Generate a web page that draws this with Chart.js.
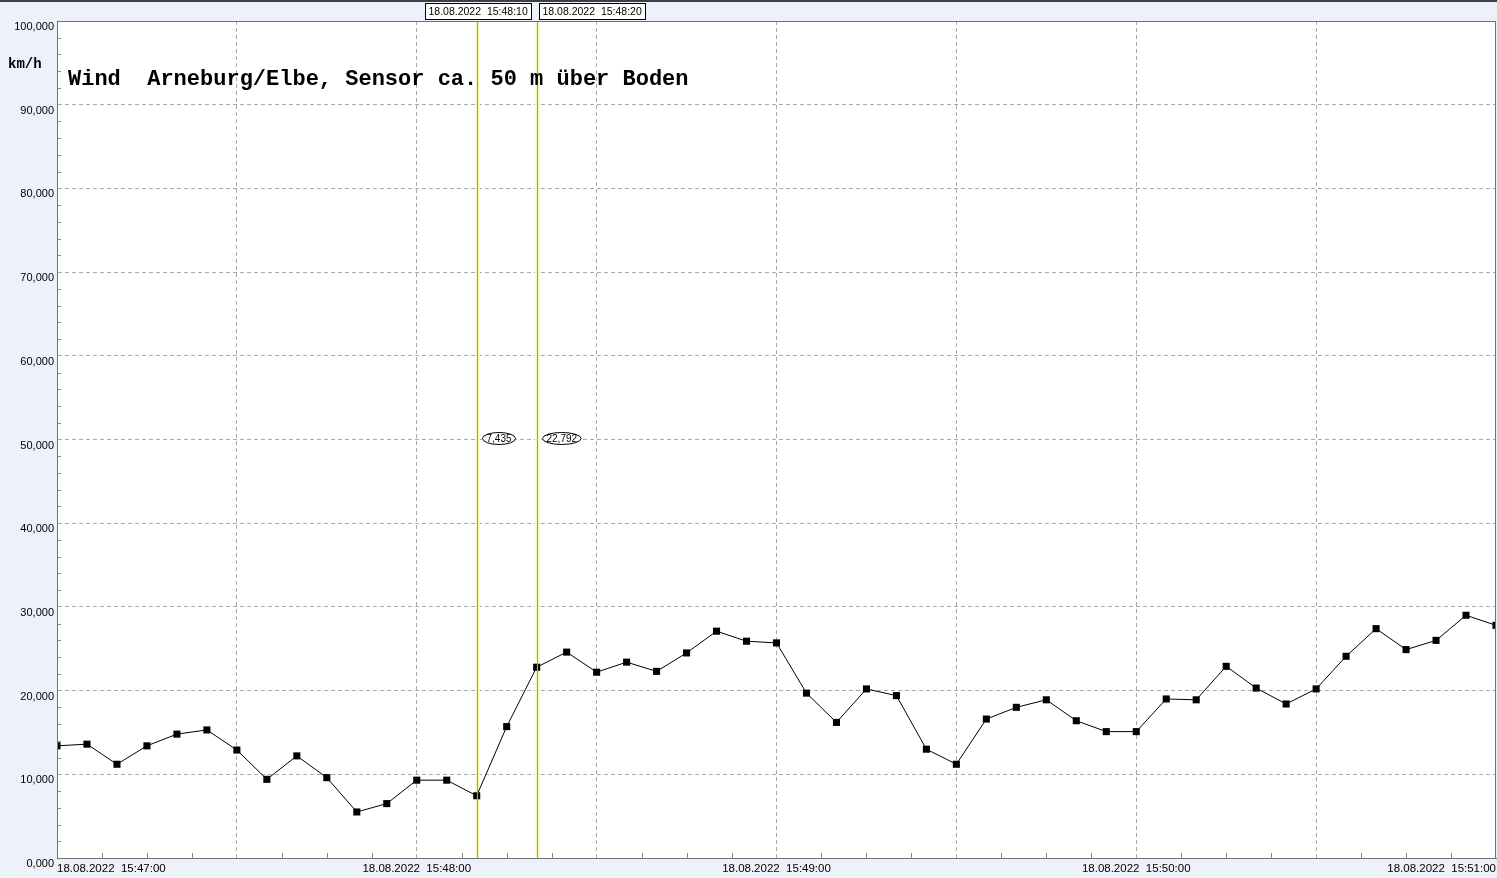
<!DOCTYPE html>
<html lang="de">
<head>
    <meta charset="UTF-8">
    <title>Wind Arneburg/Elbe</title>
    <script src="https://cdn.jsdelivr.net/npm/chart.js"></script>
    <style>
        html, body { margin: 0; padding: 0; background: #edf1fa; overflow: hidden; }
        #chart { display: block; }
    </style>
</head>
<body>
    <canvas id="chart" width="1497" height="878"></canvas>
    <script>
        // Messzeitpunkte (alle 5 s) und Windgeschwindigkeit in km/h
        const times = [
            '15:47:00', '15:47:05', '15:47:10', '15:47:15', '15:47:20', '15:47:25',
            '15:47:30', '15:47:35', '15:47:40', '15:47:45', '15:47:50', '15:47:55',
            '15:48:00', '15:48:05', '15:48:10', '15:48:15', '15:48:20', '15:48:25',
            '15:48:30', '15:48:35', '15:48:40', '15:48:45', '15:48:50', '15:48:55',
            '15:49:00', '15:49:05', '15:49:10', '15:49:15', '15:49:20', '15:49:25',
            '15:49:30', '15:49:35', '15:49:40', '15:49:45', '15:49:50', '15:49:55',
            '15:50:00', '15:50:05', '15:50:10', '15:50:15', '15:50:20', '15:50:25',
            '15:50:30', '15:50:35', '15:50:40', '15:50:45', '15:50:50', '15:50:55',
            '15:51:00'
        ];
        const windKmh = [
            13.4, 13.6, 11.2, 13.4, 14.8, 15.3,
            12.9, 9.4, 12.2, 9.6, 5.5, 6.5,
            9.3, 9.3, 7.435, 15.7, 22.792, 24.6,
            22.2, 23.4, 22.3, 24.5, 27.1, 25.9,
            25.7, 19.7, 16.2, 20.2, 19.4, 13.0,
            11.2, 16.6, 18.0, 18.9, 16.4, 15.1,
            15.1, 19.0, 18.9, 22.9, 20.3, 18.4,
            20.2, 24.1, 27.4, 24.9, 26.0, 29.0,
            27.8
        ];
        // Cursorlinien
        const cursorTimes = ['15:48:10', '15:48:20'];
        const cursorValues = [7.435, 22.792];
        const datum = '18.08.2022';
        const startTime = '15:47:00';
        const titel = 'Wind  Arneburg/Elbe, Sensor ca. 50 m über Boden';
        const einheit = 'km/h';

        function toSec(t) {
            const p = t.split(':').map(Number);
            return p[0] * 3600 + p[1] * 60 + p[2];
        }
        const t0 = toSec(startTime);
        function secLabel(s) {
            const total = t0 + s;
            const h = Math.floor(total / 3600), m = Math.floor(total / 60) % 60, sec = total % 60;
            const pad = n => String(n).padStart(2, '0');
            return datum + '  ' + pad(h) + ':' + pad(m) + ':' + pad(sec);
        }
        const fmt = v => v.toFixed(3).replace('.', ',');

        const points = times.map((t, i) => ({ x: toSec(t) - t0, y: windKmh[i] }));

        // Hintergrund, Rahmen, kleine Teilstriche, Cursor und Titel
        const deko = {
            id: 'deko',
            beforeDraw(chart) {
                const ctx = chart.ctx, a = chart.chartArea;
                ctx.save();
                ctx.fillStyle = '#edf1fa';
                ctx.fillRect(0, 0, chart.width, chart.height);
                ctx.fillStyle = '#3c4046';
                ctx.fillRect(0, 0, chart.width, 2);
                ctx.fillStyle = '#ffffff';
                ctx.fillRect(a.left, a.top, a.right - a.left, a.bottom - a.top);
                ctx.restore();
            },
            beforeDatasetsDraw(chart) {
                // heller Saum der Cursorlinien unter den Daten
                const ctx = chart.ctx, a = chart.chartArea, xs = chart.scales.x;
                ctx.save();
                ctx.fillStyle = 'rgba(255,255,200,0.9)';
                cursorTimes.forEach(t => {
                    const x = Math.round(xs.getPixelForValue(toSec(t) - t0)) + 0.5;
                    ctx.fillRect(x - 2.5, a.top, 5, a.bottom - a.top);
                });
                ctx.restore();
            },
            afterDatasetsDraw(chart) {
                const ctx = chart.ctx, a = chart.chartArea;
                const xs = chart.scales.x, ys = chart.scales.y;
                ctx.save();
                // kleine Teilstriche
                ctx.strokeStyle = '#8a8a8a';
                ctx.lineWidth = 1;
                ctx.beginPath();
                for (let v = 2; v < 100; v += 2) {
                    if (v % 10 === 0) continue;
                    const y = Math.round(ys.getPixelForValue(v)) + 0.5;
                    ctx.moveTo(a.left, y);
                    ctx.lineTo(a.left + 4, y);
                }
                for (let s = 7.5; s < 240; s += 7.5) {
                    if (s % 30 === 0) continue;
                    const x = Math.round(xs.getPixelForValue(s)) + 0.5;
                    ctx.moveTo(x, a.bottom);
                    ctx.lineTo(x, a.bottom - 5);
                }
                ctx.stroke();

                // Cursorlinien
                let lastRight = -1e9;
                cursorTimes.forEach((t, i) => {
                    const s = toSec(t) - t0;
                    const x = Math.round(xs.getPixelForValue(s)) + 0.5;
                    ctx.strokeStyle = '#acac00';
                    ctx.lineWidth = 1.2;
                    ctx.beginPath();
                    ctx.moveTo(x, a.top);
                    ctx.lineTo(x, a.bottom);
                    ctx.stroke();

                    // Zeitbox oben
                    ctx.font = '10.5px "Liberation Sans", Arial, sans-serif';
                    const txt = secLabel(s);
                    const w = Math.ceil(ctx.measureText(txt).width) + 6;
                    let left = Math.round(x - w / 2);
                    if (left < lastRight + 8) left = lastRight + 8;
                    lastRight = left + w;
                    ctx.fillStyle = '#ffffff';
                    ctx.fillRect(left + 0.5, 3.5, w, 16);
                    ctx.strokeStyle = '#000000';
                    ctx.lineWidth = 1;
                    ctx.strokeRect(left + 0.5, 3.5, w, 16);
                    ctx.fillStyle = '#000000';
                    ctx.textBaseline = 'middle';
                    ctx.textAlign = 'left';
                    ctx.fillText(txt, left + 3.5, 12);

                    // Wert-Ellipse
                    ctx.font = '10px "Liberation Sans", Arial, sans-serif';
                    const vt = fmt(cursorValues[i]);
                    const vw = ctx.measureText(vt).width + 8;
                    const cy = ys.getPixelForValue(50) - 1;
                    const cx = x + 5 + vw / 2;
                    ctx.fillStyle = '#ffffff';
                    ctx.beginPath();
                    ctx.ellipse(cx, cy, vw / 2, 6, 0, 0, Math.PI * 2);
                    ctx.fill();
                    ctx.stroke();
                    ctx.fillStyle = '#000000';
                    ctx.textAlign = 'center';
                    ctx.fillText(vt, cx, cy + 0.5);
                });

                // Rahmen
                ctx.strokeStyle = '#707070';
                ctx.lineWidth = 1;
                ctx.strokeRect(a.left + 0.5, a.top + 0.5, a.right - a.left - 1, a.bottom - a.top);

                // Titel und Einheit
                ctx.fillStyle = '#000000';
                ctx.textAlign = 'left';
                ctx.textBaseline = 'middle';
                ctx.font = 'bold 22px "Liberation Mono", "Courier New", monospace';
                ctx.fillText(titel, 68, 79);
                ctx.font = 'bold 14px "Liberation Mono", "Courier New", monospace';
                ctx.fillText(einheit, 8, 64);
                ctx.restore();
            }
        };

        new Chart(document.getElementById('chart'), {
            type: 'line',
            data: {
                datasets: [{
                    data: points,
                    borderColor: '#000000',
                    borderWidth: 1,
                    tension: 0,
                    pointStyle: 'rect',
                    pointRadius: 5,
                    pointBorderWidth: 0,
                    pointBackgroundColor: '#000000'
                }]
            },
            options: {
                responsive: false,
                animation: false,
                devicePixelRatio: 1,
                layout: { autoPadding: false, padding: { top: 21, right: 1, left: 0, bottom: 0 } },
                plugins: { legend: { display: false }, tooltip: { enabled: false } },
                scales: {
                    x: {
                        type: 'linear',
                        min: 0,
                        max: 240,
                        afterFit: s => { s.height = 20; s.paddingLeft = 0; s.paddingRight = 0; },
                        ticks: {
                            stepSize: 30,
                            autoSkip: false,
                            maxRotation: 0,
                            align: 'inner',
                            padding: 4,
                            color: '#000000',
                            font: { family: '"Liberation Sans", Arial, sans-serif', size: 11.5 },
                            callback: v => (v % 60 === 0 ? secLabel(v) : '')
                        },
                        grid: {
                            drawTicks: false,
                            color: c => (c.tick && c.tick.value > 0 && c.tick.value < 240 ? '#a8a8a8' : 'rgba(0,0,0,0)')
                        },
                        border: { display: true, color: '#707070', dash: [4, 3] }
                    },
                    y: {
                        min: 0,
                        max: 100,
                        afterFit: s => { s.width = 57; s.paddingTop = 0; s.paddingBottom = 0; },
                        ticks: {
                            stepSize: 10,
                            padding: 3,
                            labelOffset: 6,
                            color: '#000000',
                            font: { family: '"Liberation Sans", Arial, sans-serif', size: 11 },
                            callback: v => fmt(v)
                        },
                        grid: {
                            drawTicks: false,
                            color: c => (c.tick && c.tick.value > 0 && c.tick.value < 100 ? '#a8a8a8' : 'rgba(0,0,0,0)')
                        },
                        border: { display: true, color: '#707070', dash: [4, 3] }
                    }
                }
            },
            plugins: [deko]
        });
    </script>
</body>
</html>
